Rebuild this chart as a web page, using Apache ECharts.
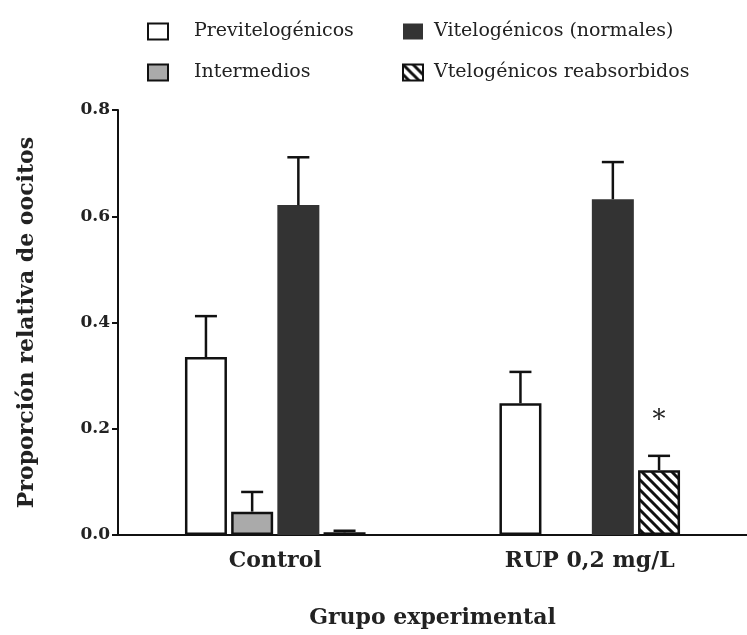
<!DOCTYPE html>
<html><head><meta charset="utf-8">
<script src="https://cdn.jsdelivr.net/npm/echarts@6/dist/echarts.min.js"></script>
<style>html,body{margin:0;padding:0;background:#fff}#c{width:747px;height:635px}</style>
</head><body><div id="c"></div>
<script>
const categories = ['Control', 'RUP 0,2 mg/L'];
const seriesNames = ['Previtelogénicos', 'Intermedios', 'Vitelogénicos (normales)', 'Vtelogénicos reabsorbidos'];
const previtelogenicos = [0.335, 0.248];
const intermedios = [0.044, 0];
const vitelogenicos = [0.621, 0.632];
const reabsorbidos = [0.005, 0.122];
const previErr = [0.077, 0.059];
const interErr = [0.037, 0];
const vitelErr = [0.090, 0.070];
const reabsErr = [0.003, 0.027];
const significance = ['', '*'];
const yTicks = [0, 0.2, 0.4, 0.6, 0.8];

const FONT = 'DejaVu Serif';
const hatch = document.createElement('canvas');
hatch.width = 10; hatch.height = 10;
(function(){
  const g = hatch.getContext('2d');
  g.fillStyle = '#fff'; g.fillRect(0,0,10,10);
  g.strokeStyle = '#111'; g.lineWidth = 3;
  g.beginPath();
  g.moveTo(-5,-5); g.lineTo(15,15);
  g.moveTo(-5,5); g.lineTo(5,15);
  g.moveTo(5,-5); g.lineTo(15,5);
  g.stroke();
})();

const values = [previtelogenicos, intermedios, vitelogenicos, reabsorbidos];
const errs = [previErr, interErr, vitelErr, reabsErr];
const styles = [
  {color:'#ffffff', borderColor:'#111', borderWidth:2.5},
  {color:'#aaaaaa', borderColor:'#111', borderWidth:2.5},
  {color:'#333333', borderColor:'#333', borderWidth:0},
  {color:{image:hatch, repeat:'repeat'}, borderColor:'#111', borderWidth:2.5}
];
const BW = 42, GAP = 0.1;
const nS = 4;
const total = nS*BW + (nS-1)*BW*GAP;

const errData = [];
values.forEach((arr, s) => arr.forEach((v, c) => { if (v > 0) errData.push([c, s, v, v + errs[s][c]]); }));

const series = values.map((arr, s) => ({
  name: seriesNames[s], type: 'bar', barWidth: BW, barGap: (GAP*100)+'%',
  itemStyle: styles[s],
  data: arr.map((v, c) => ({
    value: v,
    itemStyle: v === 0 ? {borderWidth:0, opacity:0} : undefined,
    label: (s === 3 && significance[c]) ? {show:true, position:'top', distance:36, formatter: significance[c], fontSize:26, fontFamily:FONT, color:'#222'} : {show:false}
  }))
}));
series.push({
  type: 'custom', silent: true, z: 5,
  data: errData,
  renderItem: function(params, api){
    const c = api.value(0), s = api.value(1);
    const p0 = api.coord([c, api.value(2)]);
    const p1 = api.coord([c, api.value(3)]);
    const x = p0[0] - total/2 + s*BW*(1+GAP) + BW/2;
    return {type:'group', children:[
      {type:'line', shape:{x1:x, y1:p0[1], x2:x, y2:p1[1]}, style:{stroke:'#111', lineWidth:2.5}},
      {type:'line', shape:{x1:x-11, y1:p1[1], x2:x+11, y2:p1[1]}, style:{stroke:'#111', lineWidth:2.5}}
    ]};
  }
});

const chart = echarts.init(document.getElementById('c'));
const legendBase = {orient:'vertical', top:22, padding:0, itemGap:22, itemWidth:20, itemHeight:16, icon:'rect'};
chart.setOption({
  animation: false,
  legend: [
    Object.assign({data:[seriesNames[0], seriesNames[1]], left:147,
      textStyle:{fontFamily: FONT, fontSize: 19, color: '#222', padding:[0,0,0,21]}}, legendBase),
    Object.assign({data:[seriesNames[2], seriesNames[3]], left:402,
      textStyle:{fontFamily: FONT, fontSize: 19, color: '#222', padding:[0,0,0,6]}}, legendBase)
  ],
  grid: {left:118, right:-10, top:110, bottom:100, containLabel:false},
  xAxis: {
    type:'category', data:categories,
    name:'Grupo experimental', nameLocation:'middle', nameGap:72,
    nameTextStyle:{fontFamily:FONT, fontWeight:'bold', fontSize:22, color:'#222'},
    axisLine:{lineStyle:{color:'#111', width:2}},
    axisTick:{alignWithLabel:true, length:7, lineStyle:{color:'#111', width:2}},
    axisLabel:{fontFamily:FONT, fontWeight:'bold', fontSize:22, color:'#222', margin:15}
  },
  yAxis: {
    type:'value', min:yTicks[0], max:yTicks[yTicks.length-1], interval:0.2,
    name:'Proporción relativa de oocitos', nameLocation:'middle', nameGap:80,
    nameTextStyle:{fontFamily:FONT, fontWeight:'bold', fontSize:22, color:'#222'},
    axisLine:{show:true, lineStyle:{color:'#111', width:2}},
    axisTick:{show:true, length:6, lineStyle:{color:'#111', width:2}},
    splitLine:{show:false},
    axisLabel:{fontFamily:FONT, fontWeight:'bold', fontSize:17, color:'#222', margin:8, formatter:v=>v.toFixed(1)}
  },
  series: series
});
</script></body></html>
